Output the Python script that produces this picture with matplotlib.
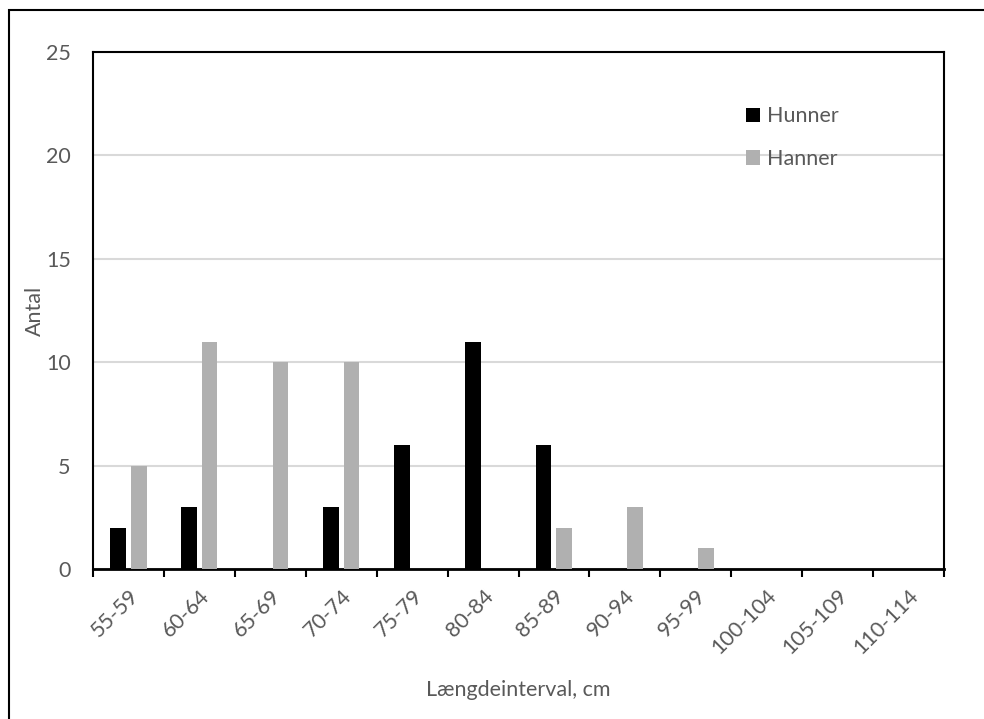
import numpy as np
import matplotlib
matplotlib.use("Agg")
import matplotlib.pyplot as plt
from matplotlib.patches import Rectangle

categories = ["55-59", "60-64", "65-69", "70-74", "75-79", "80-84", "85-89",
              "90-94", "95-99", "100-104", "105-109", "110-114"]
hunner = [2, 3, 0, 3, 6, 11, 6, 0, 0, 0, 0, 0]
hanner = [5, 11, 10, 10, 0, 0, 2, 3, 1, 0, 0, 0]

plt.rcParams['font.family'] = ['Lato', 'DejaVu Sans']
text_color = '#595959'
fs = 15.5

fig = plt.figure(figsize=(9.84, 7.19), dpi=100)
# outer chart frame (left and top visible, rest cut off)
fig.add_artist(Rectangle((9 / 984, -0.05), 1.1, 1 - 10 / 719 + 0.05,
                         transform=fig.transFigure, fill=False,
                         edgecolor='black', linewidth=1.5))

ax = fig.add_axes([93 / 984, 1 - 569 / 719, (944 - 93) / 984, (569 - 52) / 719])

x = np.arange(len(categories))
w = 0.22
ax.bar(x - 0.145, hunner, width=w, color='black', label='Hunner', zorder=3)
ax.bar(x + 0.145, hanner, width=w, color='#b0b0b0', label='Hanner', zorder=3)

ax.set_xlim(-0.5, len(categories) - 0.5)
ax.set_ylim(0, 25)
ax.set_yticks([0, 5, 10, 15, 20, 25])
ax.yaxis.grid(True, color='#d9d9d9', linewidth=1.5, zorder=0)
ax.set_axisbelow(True)

ax.set_xticks(np.arange(len(categories) + 1) - 0.5)
ax.set_xticklabels([])
ax.set_xticks(x, minor=True)
ax.set_xticklabels(categories, minor=True, rotation=45, ha='right',
                   rotation_mode='anchor', color=text_color, fontsize=fs)
ax.tick_params(axis='x', which='minor', length=0, pad=12)
ax.tick_params(axis='x', which='major', length=6, width=1.5, direction='out')
ax.tick_params(axis='y', length=0, pad=16, labelsize=fs, labelcolor=text_color)

for s in ax.spines.values():
    s.set_linewidth(1.5)
ax.spines['bottom'].set_linewidth(2)

ax.set_ylabel('Antal', fontsize=fs, color=text_color, va='center')
ax.yaxis.set_label_coords(-0.068, 0.5)
ax.set_xlabel('Længdeinterval, cm', fontsize=fs, color=text_color, va='center')
ax.xaxis.set_label_coords(0.5, -0.234)

ax.legend(loc='upper left', bbox_to_anchor=(0.767, 0.895), frameon=False,
          fontsize=fs, labelcolor=text_color, handlelength=0.65,
          handleheight=0.65, handletextpad=0.35, labelspacing=1.05,
          borderpad=0, borderaxespad=0)

fig.savefig('out.png', dpi=100)
